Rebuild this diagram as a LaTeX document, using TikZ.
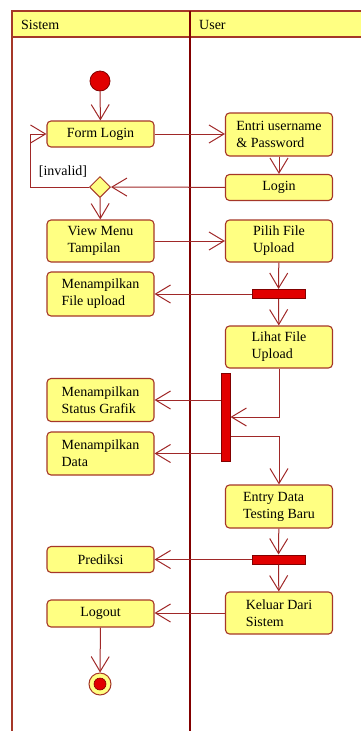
\documentclass[tikz,border=0pt]{standalone}
\usepackage{fontspec}
\setmainfont{Liberation Serif}
\usetikzlibrary{arrows.meta,shapes.geometric}

\definecolor{umlline}{RGB}{160,40,40}
\definecolor{umlborder}{RGB}{165,55,40}
\definecolor{umlfill}{RGB}{255,255,130}
\definecolor{umllane}{RGB}{130,0,0}
\definecolor{umlred}{RGB}{225,0,0}

\tikzset{
  action/.style={draw=umlborder, fill=umlfill, line width=1.1pt, rounded corners=4pt,
    minimum width=107pt, align=left, inner sep=2pt,
    font=\fontsize{14}{17}\selectfont},
  bar/.style={draw=umllane, fill=umlred, line width=1pt, inner sep=0pt},
  flow/.style={draw=umlline, line width=1pt,
    -{Straight Barb[length=15pt,width=18pt,line width=1pt]}},
  lanetext/.style={font=\fontsize{14}{17}\selectfont, anchor=base west, inner sep=0pt},
}

\begin{document}
\begin{tikzpicture}[x=1pt,y=-1pt]
\useasboundingbox (0,0) rectangle (360,731);

% swimlane frame
\draw[umlborder, line width=1.1pt, fill=umlfill] (12,11) rectangle (364,37);
\draw[umlborder, line width=1.2pt] (12,11) -- (12,735);
\draw[umllane, line width=1.6pt] (190,11) -- (190,735);
\node[lanetext] (lanesistem) at (21,29) {Sistem};
\node[lanetext] (laneuser) at (199,29) {User};

% start and end
\node[circle, draw=umllane, fill=umlred, line width=0.8pt, minimum size=20pt, inner sep=0pt] (start) at (100,81) {};
\node[circle, draw=umlborder, fill=umlfill, line width=1pt, minimum size=22pt, inner sep=0pt] (endo) at (100,684) {};
\node[circle, fill=umlred, draw=umllane, line width=0.6pt, minimum size=12pt, inner sep=0pt] (endi) at (100,684) {};

% Sistem lane actions
\node[action, minimum height=26pt] (form) at (100.5,134) {Form Login};
\node[diamond, draw=umlborder, fill=umlfill, line width=1pt, minimum width=21pt, minimum height=21pt, inner sep=0pt] (dec) at (100,187) {};
\node[font=\fontsize{14}{17}\selectfont, inner sep=0pt] (inv) at (63,172) {[invalid]};
\node[action, minimum height=42pt] (view) at (100.5,241) {View Menu\\Tampilan};
\node[action, minimum height=44pt] (mfile) at (100.5,294) {Menampilkan\\File upload};
\node[action, minimum height=43pt] (mstat) at (100.5,400) {Menampilkan\\Status Grafik};
\node[action, minimum height=43pt] (mdata) at (100.5,453.5) {Menampilkan\\Data};
\node[action, minimum height=26pt] (pred) at (100.5,559.5) {Prediksi};
\node[action, minimum height=27pt] (logout) at (100.5,613.5) {Logout};

% User lane actions
\node[action, minimum height=43pt] (entri) at (279,134.5) {Entri username\\\& Password};
\node[action, minimum height=26pt] (login) at (279,187.5) {Login};
\node[action, minimum height=42pt] (pilih) at (279,241) {Pilih File\\Upload};
\node[action, minimum height=42pt] (lihat) at (279,347) {Lihat File\\Upload};
\node[action, minimum height=43pt] (entry) at (279,506.5) {Entry Data\\Testing Baru};
\node[action, minimum height=42pt] (keluar) at (279,613) {Keluar Dari\\Sistem};

% fork / join bars
\node[bar, minimum width=53pt, minimum height=9pt] (fork1) at (278.5,294) {};
\node[bar, minimum width=9pt, minimum height=88pt] (fork2) at (225.5,417) {};
\node[bar, minimum width=53pt, minimum height=9pt] (fork3) at (278.5,559.5) {};

% control flow
\draw[flow] (start) -- (form);
\draw[flow] (form) -- (entri.west |- form.east);
\draw[flow] (entri) -- (login);
\draw[flow] (login) -- (dec);
\draw[flow] (dec.west) -- (30,187) -- (30,134) -- (form.west);
\draw[flow] (dec) -- (view);
\draw[flow] (view) -- (pilih);
\draw[flow] (pilih) -- (fork1);
\draw[flow] (fork1) -- (mfile.east |- fork1.west);
\draw[flow] (fork1) -- (lihat);
\draw[flow] (lihat.south) |- (fork2.east);
\draw[flow] (fork2.west |- mstat.east) -- (mstat.east);
\draw[flow] (fork2.west |- mdata.east) -- (mdata.east);
\draw[flow] ([yshift=-19pt]fork2.east) -| (entry.north);
\draw[flow] (entry) -- (fork3);
\draw[flow] (fork3) -- (pred.east |- fork3.west);
\draw[flow] (fork3) -- (keluar);
\draw[flow] (keluar.west) -- (logout.east |- keluar.west);
\draw[flow] (logout) -- (endo);
\end{tikzpicture}
\end{document}
